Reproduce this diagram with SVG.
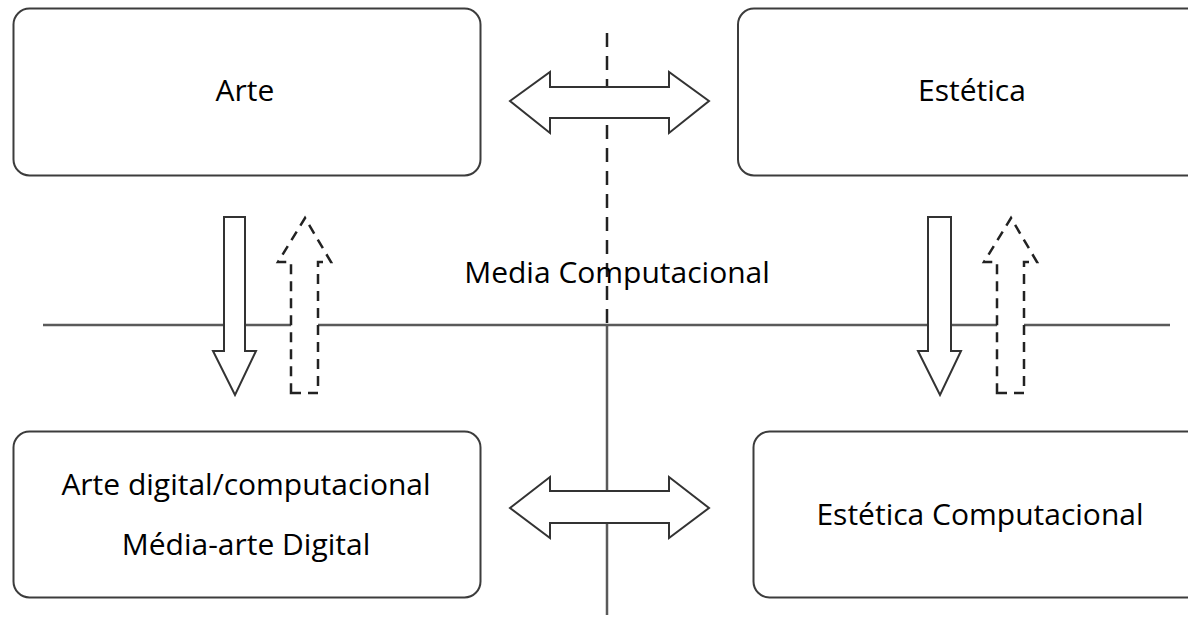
<svg xmlns="http://www.w3.org/2000/svg" width="1188" height="617" viewBox="0 0 1188 617">
<style>
.box{fill:#fff;stroke:#3c3c3c;stroke-width:2}
.lbl{font-family:"Open Sans","Liberation Sans",sans-serif;font-size:30px;fill:#000;text-anchor:middle}
.arr{fill:#fff;stroke:#333;stroke-width:2;stroke-linejoin:miter}
.darr{fill:#fff;stroke:#222;stroke-width:2.5;stroke-dasharray:10 7}
.axis{stroke:#5a5a5a;stroke-width:2.5;fill:none}
</style>
<rect width="1188" height="617" fill="#fff"/>
<g id="axes">
<line class="axis" x1="43" y1="325" x2="1170" y2="325"/>
<line class="axis" x1="607" y1="325" x2="607" y2="615"/>
<line x1="607" y1="33" x2="607" y2="325" stroke="#222" stroke-width="2.5" stroke-dasharray="14 9"/>
</g>
<g id="arte"><rect class="box" x="13.5" y="8.5" width="467" height="167" rx="16"/><text class="lbl" x="245" y="101">Arte</text></g>
<g id="estetica"><rect class="box" x="738" y="8.5" width="470" height="167" rx="16"/><text class="lbl" x="972" y="101">Estética</text></g>
<g id="arte-digital"><rect class="box" x="13.5" y="431.5" width="467" height="166" rx="16"/><text class="lbl" x="246" y="495">Arte digital/computacional</text><text class="lbl" x="246" y="555">Média-arte Digital</text></g>
<g id="estetica-comp"><rect class="box" x="753.5" y="431.5" width="460" height="166" rx="16"/><text class="lbl" x="980" y="525">Estética Computacional</text></g>
<g id="media"><text class="lbl" x="617" y="283">Media Computacional</text></g>
<g id="connectors">
<polygon class="arr" points="510,101 550,72 550,87 669,87 669,72 709,101 669,133 669,118 550,118 550,133"/>
<polygon class="arr" points="510,508 550,477 550,491 669,491 669,477 709,508 669,538 669,523 550,523 550,538"/>
<polygon class="arr" points="224,217 245,217 245,351 256,351 235,395 213,351 224,351"/>
<polygon class="arr" points="928,217 951,217 951,351 961,351 940,395 918,351 928,351"/>
<polygon class="darr" points="291,393 318,393 318,262 331,262 305,218 278,262 291,262"/>
<polygon class="darr" points="997,393 1024,393 1024,262 1037,262 1011,218 984,262 997,262"/>
</g>
</svg>
